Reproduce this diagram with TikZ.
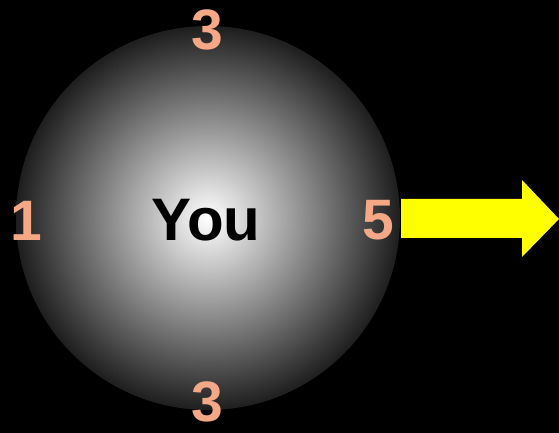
\documentclass[tikz,border=0pt]{standalone}
\usepackage{fontspec}
\setmainfont{Liberation Sans}
\usepackage{tikz}
\usetikzlibrary{calc}
\definecolor{salmon}{HTML}{F4A886}
\definecolor{arrowyellow}{HTML}{FFFF00}
\definecolor{rim}{HTML}{1E1E1E}

\begin{document}
\begin{tikzpicture}[
    x=1pt, y=1pt,
    ball/.style={circle, inner sep=0pt, minimum size=384pt, inner color=white, outer color=rim},
    num/.style={text=salmon, font=\fontsize{57}{60}\selectfont\bfseries, inner sep=0pt},
    who/.style={text=black, font=\fontsize{60}{64}\selectfont\bfseries, inner sep=0pt},
]
    % black page
    \fill[black] (0,0) rectangle (559,433);
    \useasboundingbox (0,0) rectangle (559,433);

    \node[ball] (ball) at (208,215) {};
    \node[who] (you) at (206,213) {You};
    \node[num] (top) at (207,403) {3};
    \node[num] (bottom) at (207,31) {3};
    \node[num] (left) at (26,212) {1};
    \node[num] (right) at (378,213) {5};

    % big arrow
    \fill[arrowyellow] (401,234) -- (522,234) -- (522,253) -- (559,214)
        -- (522,176) -- (522,195) -- (401,195) -- cycle;
\end{tikzpicture}
\end{document}
